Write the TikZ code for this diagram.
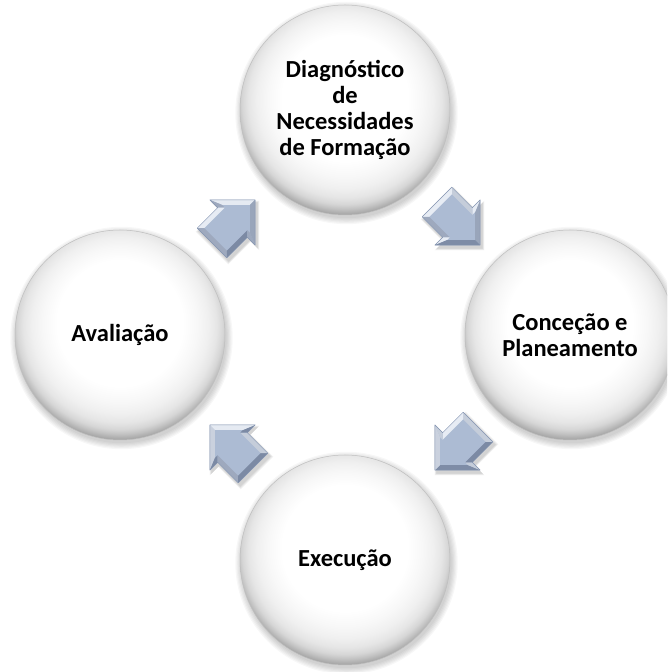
\documentclass[tikz,border=0pt]{standalone}
\usepackage{fontspec}
\setmainfont{Carlito}
\usetikzlibrary{calc}

\definecolor{arrowface}{RGB}{172,187,211}
\definecolor{arrowhi}{RGB}{240,244,250}
\definecolor{arrowlo}{RGB}{104,120,150}
\definecolor{arrowline}{RGB}{132,148,176}

% soft white ball, greying towards its rim, lit from above
% (the node's outline sits at 25bp of the shading)
\pgfdeclareradialshading{ballshade}{\pgfpoint{0bp}{4bp}}{%
  color(0bp)=(white); color(15bp)=(white); color(18.5bp)=(black!3);
  color(21bp)=(black!6); color(23bp)=(black!10); color(24.5bp)=(black!16);
  color(25.5bp)=(black!24); color(27bp)=(black!38); color(29bp)=(black!46);
  color(50bp)=(black!46)}

\tikzset{
  ball/.style={circle, minimum size=210pt, inner sep=0pt, align=center,
    shading=ballshade, draw=black!25, line width=0.5pt,
    font=\bfseries\fontsize{24.5}{26}\selectfont},
}

% bevelled block arrow half-way between two nodes, pointing at angle #3
\newcommand\bevelarrow[3]{%
  \begin{scope}[shift={($(#1)!0.5!(#2)+(2,-3)$)}, rotate=#3]
    \foreach \s in {1,...,5}{
      \fill[black, opacity=0.035, scale=1+0.02*\s]
        (32,0) -- (0,32) -- (0,21) -- (-29,21) -- (-29,-21) -- (0,-21) -- (0,-32) -- cycle;
    }
  \end{scope}
  \begin{scope}[shift={($(#1)!0.5!(#2)$)}, rotate=#3]
    \fill[arrowface]
      (32,0) -- (0,32) -- (0,21) -- (-29,21) -- (-29,-21) -- (0,-21) -- (0,-32) -- cycle;
    \foreach \ax/\ay/\bx/\by/\cx/\cy/\dx/\dy/\n in {
        32/0/0/32/5/19.93/24.93/0/45,
        0/32/0/21/5/16/5/19.93/180,
        0/21/-29/21/-24/16/5/16/90,
        -29/21/-29/-21/-24/-16/-24/16/180,
        -29/-21/0/-21/5/-16/-24/-16/270,
        0/-21/0/-32/5/-19.93/5/-16/180,
        0/-32/32/0/24.93/0/5/-19.93/315}{
      \pgfmathsetmacro\br{max(12,min(95,54+42*cos(\n+#3-115)))}
      \fill[arrowhi!\br!arrowlo]
        (\ax,\ay) -- (\bx,\by) -- (\cx,\cy) -- (\dx,\dy) -- cycle;
    }
    \draw[arrowline, line width=0.4pt, line join=round]
      (32,0) -- (0,32) -- (0,21) -- (-29,21) -- (-29,-21) -- (0,-21) -- (0,-32) -- cycle;
  \end{scope}
}

\begin{document}
\begin{tikzpicture}[x=1pt, y=1pt]
  \useasboundingbox (0,0) rectangle (667,672);
  \fill[white] (0,0) rectangle (667,672);
  \clip (0,0) rectangle (667,672);

  % faint shadows under the balls
  \foreach \p in {(345,562), (120,337), (570,337), (345,112)}{
    \foreach \s in {1,...,6}{
      \fill[black, opacity=0.03] \p ++(1.5,-3) circle ({104+\s*1.2});
    }
  }

  \node[ball] (diag) at (345,562) {Diagnóstico\\de\\Necessidades\\de Formação};
  \node[ball] (conc) at (570,337) {Conceção e\\Planeamento};
  \node[ball] (exec) at (345,112) {Execução};
  \node[ball] (aval) at (120,337) {Avaliação};

  \bevelarrow{aval}{diag}{45}
  \bevelarrow{diag}{conc}{-45}
  \bevelarrow{conc}{exec}{-135}
  \bevelarrow{exec}{aval}{135}
\end{tikzpicture}
\end{document}
